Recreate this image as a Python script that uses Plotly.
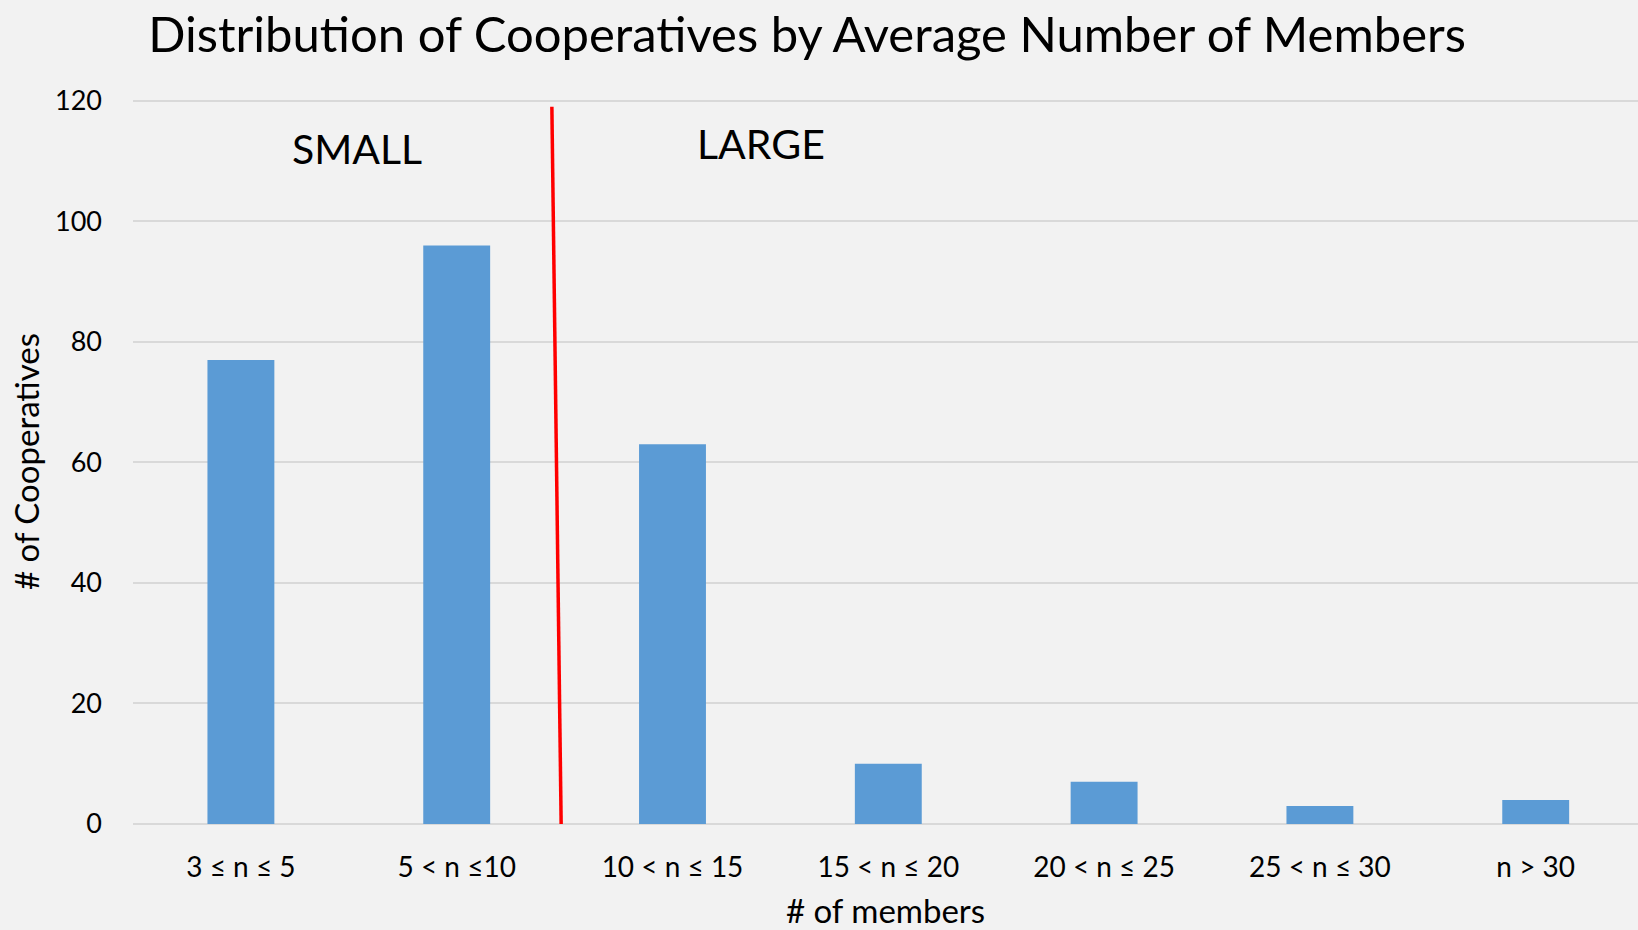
import plotly.graph_objects as go

categories = ["3 ≤ n ≤ 5", "5 < n ≤10", "10 < n ≤ 15", "15 < n ≤ 20",
              "20 < n ≤ 25", "25 < n ≤ 30", "n > 30"]
counts = [77, 96, 63, 10, 7, 3, 4]

divider_x = [1.441, 1.484]
divider_y = [119, 0]

FONT = "Lato"
fig = go.Figure()
fig.add_trace(go.Bar(x=categories, y=counts, marker_color="#5b9bd5",
                     marker_line_width=0))

fig.add_shape(type="line", xref="x", yref="y",
              x0=divider_x[0], y0=divider_y[0], x1=divider_x[1], y1=divider_y[1],
              line=dict(color="#ff0000", width=3.5))

fig.add_annotation(text="SMALL", x=0.538, y=112.1, xref="x", yref="y",
                   showarrow=False, font=dict(family=FONT, size=41, color="#000000"))
fig.add_annotation(text="LARGE", x=2.408, y=112.9, xref="x", yref="y",
                   showarrow=False, font=dict(family=FONT, size=41, color="#000000"))

fig.update_layout(
    width=1638, height=930,
    margin=dict(l=133, r=0, t=99, b=106, autoexpand=False),
    paper_bgcolor="#f2f2f2", plot_bgcolor="#f2f2f2",
    bargap=0.69,
    showlegend=False,
    font=dict(family=FONT, color="#000000"),
    title=dict(text="Distribution of Cooperatives by Average Number of Members",
               x=0.4927, xref="container", xanchor="center",
               y=1 - 34.5 / 930, yref="container", yanchor="middle",
               font=dict(family=FONT, size=49, color="#000000")),
    xaxis=dict(type="category", range=[-0.5, 6.474],
               showgrid=False, zeroline=False, showline=False,
               ticks="", ticklabelstandoff=24,
               tickfont=dict(family=FONT, size=28, color="#000000"),
               title=dict(text="# of members", standoff=26,
                          font=dict(family=FONT, size=33, color="#000000"))),
    yaxis=dict(range=[0, 120.3], tickvals=[0, 20, 40, 60, 80, 100, 120],
               showgrid=True, gridcolor="#d9d9d9", gridwidth=2,
               zeroline=True, zerolinecolor="#d9d9d9", zerolinewidth=2,
               showline=False, ticks="", ticklabelstandoff=30,
               tickfont=dict(family=FONT, size=27, color="#000000"),
               title=dict(text="# of Cooperatives", standoff=5,
                          font=dict(family=FONT, size=33, color="#000000"))),
)

fig.write_html("out.html")
